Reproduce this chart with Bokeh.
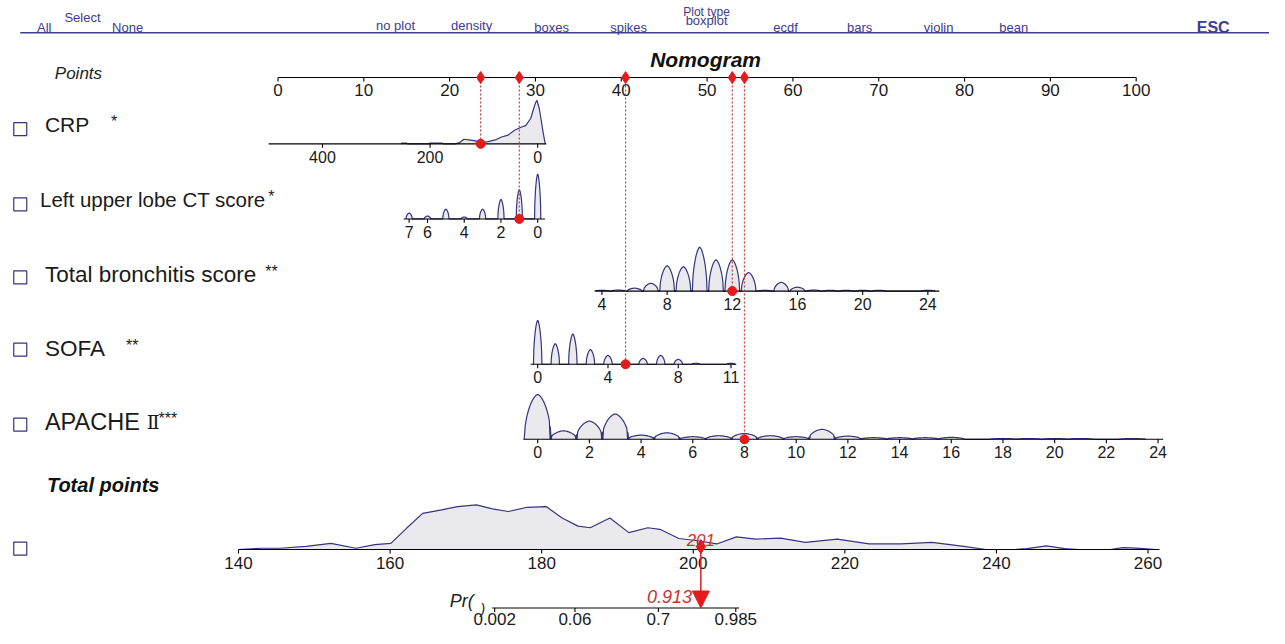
import numpy as np
from bokeh.plotting import figure
from bokeh.models import Range1d, Arrow, NormalHead
from bokeh.core.properties import value
from bokeh.embed import file_html
from bokeh.resources import INLINE

# ---------------- data ----------------
menu_select = ["All", "None"]
menu_plot_types = ["no plot", "density", "boxes", "spikes", "boxplot", "ecdf", "bars", "violin", "bean"]

points_ticks = [0, 10, 20, 30, 40, 50, 60, 70, 80, 90, 100]

var_names = ["CRP", "Left upper lobe CT score", "Total bronchitis score", "SOFA", "APACHE"]
var_stars = ["*", "*", "**", "**", "***"]

# model scaling: points = intercept + slope * value
crp_coef = [30.26, -0.0627]
ct_coef = [30.26, -2.140]
tbs_coef = [30.15, 1.899]
sofa_coef = [30.26, 2.048]
apache_coef = [30.26, 3.012]

crp_ticks = [400, 200, 0]
crp_span = [500, -16]
crp_selected = 106
crp_dens_x = [-14, -10, -6, -3, 0, 1.3, 4, 7, 13, 22, 31, 43, 55, 67, 79, 92, 104,
              110, 116, 122, 128, 137, 145, 153, 176, 178, 200, 202, 242, 244, 252, 254]
crp_dens_h = [0, 12, 26, 36, 42, 44.6, 42, 37, 26, 19, 17, 14, 9, 7, 4, 2.3, 1.3,
              2, 3, 3.5, 4, 4.7, 1.3, 0, 0, 0.8, 0.8, 0, 0, 0.8, 0.8, 0]

ct_ticks = [7, 6, 4, 2, 0]
ct_span = [7.3, -0.4]
ct_levels = [0, 1, 2, 3, 4, 5, 6, 7]
ct_freq = [46, 30, 20, 10, 2, 10, 3, 6]
ct_selected = 1

tbs_ticks = [4, 8, 12, 16, 20, 24]
tbs_span = [3.6, 24.7]
tbs_levels = list(range(4, 25))
tbs_freq = [0.8, 1, 3, 8, 26, 25, 45, 32, 32, 19, 0.8, 9, 4, 1, 0.8, 0.8, 0.8, 0.8, 0, 0, 0.8]
tbs_selected = 12

sofa_ticks = [0, 4, 8, 11]
sofa_span = [-0.4, 11.3]
sofa_levels = list(range(0, 12))
sofa_freq = [45, 21, 31, 15, 9, 3, 6, 9, 5, 1, 0, 1]
sofa_selected = 5

apache_ticks = [0, 2, 4, 6, 8, 10, 12, 14, 16, 18, 20, 22, 24]
apache_span = [-0.55, 24.2]
apache_levels = list(range(0, 25))
apache_freq = [46, 8.7, 18.7, 26, 4.3, 6.7, 2.7, 3.7, 6, 3.7, 2.7, 10.3, 3.3,
               1.7, 1.7, 1.7, 2, 0, 0.8, 0.8, 0.8, 0.8, 0, 0.8, 0]
apache_selected = 8

total_ticks = [140, 160, 180, 200, 220, 240, 260]
total_span = [140, 261.5]
total_dens_x = [140, 143, 145.5, 148.9, 152.2, 155.5, 158, 160.1, 162.2, 164.3, 166.8,
                168.9, 171.4, 173.5, 175.6, 178.1, 180.6, 182.7, 184.8, 186.4, 189,
                191.5, 194, 195.6, 198.1, 200.6, 203.1, 205.7, 208.2, 211.5, 214.8,
                219, 223.2, 227.4, 231.5, 235.7, 238.6, 242.4, 244, 246.6, 249,
                250.8, 255, 256.7, 258.5, 261]
total_dens_h = [0, 1.3, 1.3, 3.3, 6.3, 1.3, 5, 6.3, 22, 37, 40.7,
                44, 45.7, 41.7, 39, 43.3, 44, 32.3, 24, 22.3, 32.3,
                17.3, 22.3, 20.7, 11.3, 9, 5.7, 13, 10.7, 11.7, 7.3,
                10.7, 5.7, 5.7, 7.3, 3.3, 0, 0, 1, 3.7, 1,
                0, 0, 2, 1.5, 0]
total_selected = 201

pr_coef = [-63.025, 0.32688]          # logit(Pr) = b0 + b1 * total points
pr_ticks = [0.002, 0.06, 0.7, 0.985]
pr_labels = ["0.002", "0.06", "0.7", "0.985"]
pr_span = [0.0018, 0.987]
pr_selected = 0.913

# ---------------- layout / style ----------------
PX_PER_PT = 8.69
X0 = 281.0
W, H = 1269, 628
NAVY = "#34347f"
MENU = "#3c3c92"
FILL = "#eaeaee"
RED = "#e41a1c"
DRED = "#d23a3a"
FONT = "Liberation Sans"

TOT_OFF = (241 - X0) / PX_PER_PT
TOT_SCALE = 7.675 / PX_PER_PT


def sx(px):
    return (px - X0) / PX_PER_PT


def pts(coef, v):
    return coef[0] + coef[1] * np.asarray(v, dtype=float)


def tot(t):
    return TOT_OFF + TOT_SCALE * (np.asarray(t, dtype=float) - 140)


def pr_tot(pv):
    pv = np.asarray(pv, dtype=float)
    return (np.log(pv / (1 - pv)) - pr_coef[0]) / pr_coef[1]


p = figure(width=W, height=H, x_range=Range1d(sx(0), sx(1285)),
           y_range=Range1d(644, 0), x_axis_location=None, y_axis_location=None,
           toolbar_location=None, output_backend="svg", min_border=0)
p.outline_line_color = None
p.grid.visible = False
p.background_fill_color = "white"


def txt(x, y, s, size, color="#1a1a1a", style="normal", align="left", font=FONT, baseline="middle"):
    p.text(x=list(np.atleast_1d(x)), y=list(np.atleast_1d(y)), text=list(np.atleast_1d(s)),
           text_font=value(font), text_font_size=value(size), text_color=color,
           text_font_style=style, text_align=align, text_baseline=baseline)


def axis(x_lo, x_hi, y, tick_x, labels, size="16px", off=13):
    tick_x = list(np.asarray(tick_x, dtype=float))
    n = len(tick_x)
    p.line([x_lo, x_hi], [y, y], line_color="black", line_width=1.1)
    p.segment(x0=tick_x, y0=[y] * n, x1=tick_x, y1=[y + 4] * n, line_color="black", line_width=1.1)
    txt(tick_x, [y + off] * n, [str(l) for l in labels], size, align="center")


def density(xs, base, hs):
    ys = base - np.asarray(hs, dtype=float)
    p.patch(x=list(xs), y=list(ys), fill_color=FILL, line_color=None)
    p.line(list(xs), list(ys), line_color=NAVY, line_width=1.2)


def bump_density(coef, levels, freq, hw, base):
    prof_x = np.linspace(-1, 1, 31)
    prof = (1 - np.abs(prof_x) ** 1.6) ** 0.55
    xs, hs = [], []
    for lv, f in zip(levels, freq):
        if f <= 0:
            continue
        xs.extend(pts(coef, lv + hw * prof_x))
        hs.extend(f * prof)
    order = np.argsort(xs, kind="stable")
    density(np.asarray(xs)[order], base, np.asarray(hs)[order])


# ---------------- menu bar ----------------
p.line([sx(20), sx(1285)], [33, 33], line_color=MENU, line_width=1.5)
txt(sx(37), 28, menu_select[0], "13px", MENU)
txt(sx(83), 17, "Select", "13px", MENU, align="center")
txt(sx(113), 28, menu_select[1], "13px", MENU)
menu_cx = [400, 477, 558, 636, 715, 795, 870, 950, 1026]
menu_cy = [26, 26, 28, 28, 20, 28, 28, 28, 28]
txt([sx(c) for c in menu_cx], menu_cy, menu_plot_types, "13px", MENU, align="center")
txt(sx(715), 12, "Plot type", "12px", MENU, align="center")
txt(sx(1228), 28, "ESC", "16px", MENU, style="bold", align="center")

# ---------------- title & points axis ----------------
txt(sx(714), 60, "Nomogram", "21px", "#111111", style="bold italic", align="center")
txt(sx(55), 75, "Points", "17px", "#222222", style="italic")
axis(0, 100, 79, points_ticks, points_ticks, size="17px")

# ---------------- variable labels & checkboxes ----------------
label_y = [127, 204, 281, 357, 432]
label_x = [45, 40, 45, 45, 45]
label_size = ["21px", "20.5px", "22.5px", "22.5px", "23.5px"]
star_x = [112, 271, 268, 127, 160]
box_y = [132, 209, 284, 358, 435, 562]
p.scatter(x=[sx(20)] * len(box_y), y=box_y, marker="square", size=13,
          fill_color="white", line_color=NAVY, line_width=1.2)
for i in range(5):
    txt(sx(label_x[i]), label_y[i], var_names[i], label_size[i])
    txt(sx(star_x[i]), label_y[i] - 3, var_stars[i], "16px")
txt(sx(148), 432, "Ⅱ", "19px", font="DejaVu Serif")
txt(sx(47), 497, "Total points", "20px", "#111111", style="bold italic")

# ---------------- variable axes with distributions ----------------
Y_CRP, Y_CT, Y_TBS, Y_SOFA, Y_AP, Y_TOT, Y_PR = 147, 224, 298, 373, 450, 563, 623
density(pts(crp_coef, crp_dens_x), Y_CRP, crp_dens_h)
axis(*pts(crp_coef, crp_span), Y_CRP, pts(crp_coef, crp_ticks), crp_ticks)

bump_density(ct_coef, ct_levels, ct_freq, 0.17, Y_CT)
axis(*pts(ct_coef, ct_span), Y_CT, pts(ct_coef, ct_ticks), ct_ticks)

bump_density(tbs_coef, tbs_levels, tbs_freq, 0.45, Y_TBS)
axis(*pts(tbs_coef, tbs_span), Y_TBS, pts(tbs_coef, tbs_ticks), tbs_ticks)

bump_density(sofa_coef, sofa_levels, sofa_freq, 0.24, Y_SOFA)
axis(*pts(sofa_coef, sofa_span), Y_SOFA, pts(sofa_coef, sofa_ticks), sofa_ticks)

bump_density(apache_coef, apache_levels, apache_freq, 0.52, Y_AP)
axis(*pts(apache_coef, apache_span), Y_AP, pts(apache_coef, apache_ticks), apache_ticks)

# ---------------- total points ----------------
density(tot(total_dens_x), Y_TOT, total_dens_h)
axis(*tot(total_span), Y_TOT, tot(total_ticks), total_ticks, size="17px", off=14)

# ---------------- probability ----------------
axis(*tot(pr_tot(pr_span)), Y_PR, tot(pr_tot(pr_ticks)), pr_labels, size="17px", off=11)
txt(sx(455), 616, "Pr(", "18px", "#222222", style="italic")
txt(sx(486), 624, ")", "14px", "#222222", style="italic")

# ---------------- selected case ----------------
sel_pts = [float(pts(crp_coef, crp_selected)), float(pts(ct_coef, ct_selected)),
           float(pts(tbs_coef, tbs_selected)), float(pts(sofa_coef, sofa_selected)),
           float(pts(apache_coef, apache_selected))]
sel_y = [Y_CRP, Y_CT, Y_TBS, Y_SOFA, Y_AP]
p.segment(x0=sel_pts, y0=[79] * 5, x1=sel_pts, y1=sel_y, line_color=DRED,
          line_dash="2 2", line_width=1.2)
p.scatter(x=sel_pts, y=sel_y, marker="circle", size=9, fill_color=RED, line_color=RED)
p.scatter(x=sel_pts, y=[79] * 5, marker="diamond", size=12, fill_color=RED, line_color=RED)

tx_sel = float(tot(total_selected))
p.add_layout(Arrow(end=NormalHead(size=17, fill_color=RED, line_color=RED),
                   x_start=tx_sel, y_start=Y_TOT, x_end=tx_sel, y_end=Y_PR,
                   line_color=RED, line_width=1.5))
p.scatter(x=[tx_sel], y=[Y_TOT - 3], marker="diamond", size=14, fill_color=RED, line_color=RED)
txt(tx_sel, 553, str(total_selected), "17px", "#d03030", style="italic", align="center")
txt(tx_sel - 9 / PX_PER_PT, 611, f"{pr_selected:.3f}", "18px", "#d03030", style="italic", align="right")

open("out.html", "w").write(file_html(p, INLINE))
